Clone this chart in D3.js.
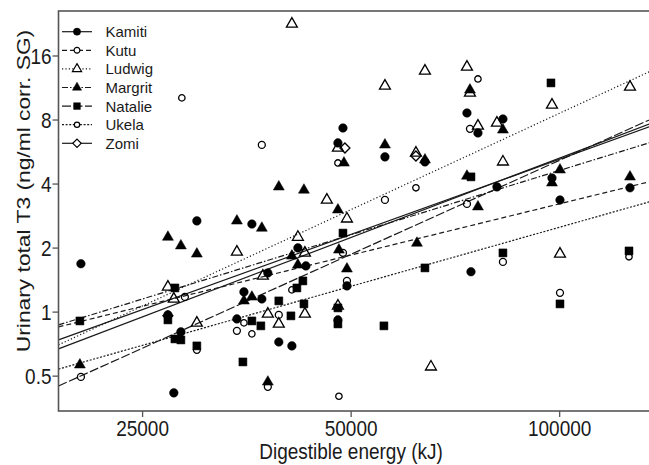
<!DOCTYPE html>
<html>
<head>
<meta charset="utf-8">
<script src="https://cdnjs.cloudflare.com/ajax/libs/d3/7.8.5/d3.min.js"></script>
<style>
body { margin: 0; background: #fff; }
text { font-family: "Liberation Sans", Arial, sans-serif; }
</style>
</head>
<body>
<div id="chart"></div>
<script>
// subjects in legend order
var subjects = ["Kamiti", "Kutu", "Ludwig", "Margrit", "Natalie", "Ukela", "Zomi"];

// [digestible energy kJ, urinary T3]
var kamiti = [[20400,1.68],[29990,2.67],[36010,2.58],[27240,0.965],[28440,0.803],[34260,0.924],
  [35070,1.238],[27780,0.415],[48740,7.30],[47930,6.21],[56040,5.34],[64010,5.06],[41960,1.993],
  [43090,1.64],[37970,1.52],[49390,1.321],[37220,1.147],[47930,0.914],[39380,0.72],[41130,0.69],
  [73600,8.59],[76340,6.92],[82950,8.05],[81310,3.86],[97640,4.25],[126540,3.82],[100270,3.35],[74590,1.54]];
var kutu = [[20400,0.493],[28820,1.172],[29990,0.661],[34260,0.812],[37220,6.08],[48740,1.888],
  [49390,1.394],[39380,0.965],[37970,0.443],[74340,7.23],[73600,3.21],[82950,1.712],[100270,1.225],[56040,3.35]];
var ludwig = [[34260,1.908],[27240,1.307],[27780,1.147],[29990,0.885],[41130,22.5],[64010,13.53],
  [56040,11.51],[47930,5.88],[62120,5.57],[46200,3.35],[49390,2.73],[41960,2.24],[42950,1.888],
  [37350,1.472],[47930,1.064],[37970,0.975],[42950,0.975],[39380,0.875],[65300,0.55],[73600,14.13],
  [74340,10.67],[76340,7.46],[81310,7.71],[97640,9.37],[126540,11.38],[82950,5.06],[100270,1.867]];
var margrit = [[20330,0.562],[27240,2.24],[28440,2.04],[29990,1.867],[34260,2.67],[35070,1.123],
  [36010,1.172],[48900,5.00],[56040,6.08],[64010,5.17],[39380,3.86],[42810,3.73],[47930,3.01],
  [37220,2.47],[41130,1.827],[48090,1.95],[41960,1.658],[62330,2.10],[49390,1.588],[37970,0.467],
  [74340,11.02],[82950,7.15],[73600,4.34],[100270,4.64],[97640,4.03],[126540,4.30],[76340,3.11]];
var natalie = [[20330,0.904],[27880,1.292],[27240,0.914],[27880,0.744],[28440,0.736],[29990,0.69],
  [36010,0.904],[34950,0.58],[48740,2.34],[64010,1.605],[42660,1.394],[41820,1.292],[39380,1.123],
  [42810,1.087],[47930,1.041],[41000,0.955],[37100,0.857],[47930,0.875],[55850,0.857],[97310,11.89],
  [74590,4.30],[82950,1.888],[126120,1.929],[100270,1.087]];
var ukela = [[28530,10.11],[35070,0.885],[36010,0.786],[47930,5.00],[62120,3.82],[41130,1.265],
  [48090,0.40],[76340,12.41],[126120,1.81]];
var zomi = [[62120,5.39],[49060,5.88],[27240,0.955]];

// fitted lines: log2(T3) = intercept + slope * log2(DE / 50000)
var fitIntercept = [1.155, 0.882, 1.590, 1.199, 0.893, 0.394, 1.204];
var fitSlope = [1.240, 0.800, 1.505, 1.004, 1.467, 0.922, 1.174];

var xTicks = [25000, 50000, 100000];
var yTicks = [0.5, 1, 2, 4, 8, 16];

var series = [kamiti, kutu, ludwig, margrit, natalie, ukela, zomi];

var W = 649, H = 465;
var plotLeft = 58.5, plotRight = 652, plotTop = 11, plotBottom = 411;

var diamond = {
  draw: function(ctx, size) {
    var r = Math.sqrt(size / 2);
    ctx.moveTo(0, -r); ctx.lineTo(r, 0); ctx.lineTo(0, r); ctx.lineTo(-r, 0); ctx.closePath();
  }
};

var looks = [
  {sym: d3.symbolCircle, size: 58, fill: true, dash: null},
  {sym: d3.symbolCircle, size: 38, fill: false, dash: "5,3"},
  {sym: d3.symbolTriangle, size: 52, fill: false, dash: "1.2,2.2"},
  {sym: d3.symbolTriangle, size: 52, fill: true, dash: "6,2,1.5,2"},
  {sym: d3.symbolSquare, size: 64, fill: true, dash: "9,2.5"},
  {sym: d3.symbolCircle, size: 32, fill: false, dash: "2,1.6"},
  {sym: diamond, size: 50, fill: false, dash: null}
];

var svg = d3.select("#chart").append("svg")
  .attr("width", W)
  .attr("height", H);

var x = d3.scaleLog()
  .domain([18935, 136146])
  .range([plotLeft, plotRight]);

var y = d3.scaleLog().base(2)
  .domain([0.341, 25.9])
  .range([plotBottom, plotTop]);

svg.append("clipPath").attr("id", "plotclip")
  .append("rect")
  .attr("x", plotLeft).attr("y", plotTop)
  .attr("width", plotRight - plotLeft).attr("height", plotBottom - plotTop);

// regression lines
var lineGen = d3.line().x(function(d) { return x(d[0]); }).y(function(d) { return y(d[1]); });
var lines = svg.append("g").attr("clip-path", "url(#plotclip)");
subjects.forEach(function(name, i) {
  var ends = x.domain().map(function(e) {
    return [e, Math.pow(2, fitIntercept[i] + fitSlope[i] * Math.log2(e / 50000))];
  });
  lines.append("path")
    .attr("d", lineGen(ends))
    .attr("fill", "none")
    .attr("stroke", "#1a1a1a")
    .attr("stroke-width", 1.2)
    .attr("stroke-dasharray", looks[i].dash);
});

// points
var pts = svg.append("g");
series.forEach(function(data, i) {
  var lk = looks[i];
  pts.append("g").selectAll("path")
    .data(data)
    .enter()
    .append("path")
    .attr("transform", function(d) { return "translate(" + x(d[0]) + "," + y(d[1]) + ")"; })
    .attr("d", d3.symbol().type(lk.sym).size(lk.size))
    .attr("fill", lk.fill ? "#000" : "none")
    .attr("stroke", "#000")
    .attr("stroke-width", lk.fill ? 0.5 : 1.3);
});

// frame
svg.append("rect")
  .attr("x", plotLeft).attr("y", plotTop)
  .attr("width", plotRight - plotLeft).attr("height", plotBottom - plotTop)
  .attr("fill", "none")
  .attr("stroke", "#555")
  .attr("stroke-width", 1.6);

// axes
var xAxis = svg.append("g")
  .attr("transform", "translate(0," + plotBottom + ")")
  .call(d3.axisBottom(x).tickValues(xTicks).tickFormat(d3.format("d")).tickSize(6));
xAxis.select(".domain").remove();
xAxis.selectAll("line").attr("stroke", "#555").attr("stroke-width", 1.3);
xAxis.selectAll("text")
  .attr("y", null).attr("dy", null)
  .attr("transform", "translate(0,25) scale(1,1.2)")
  .attr("fill", "#1a1a1a")
  .style("font-size", "19px");

var yAxis = svg.append("g")
  .attr("transform", "translate(" + plotLeft + ",0)")
  .call(d3.axisLeft(y).tickValues(yTicks).tickFormat(function(d) { return d; }).tickSize(6));
yAxis.select(".domain").remove();
yAxis.selectAll("line").attr("stroke", "#555").attr("stroke-width", 1.3);
yAxis.selectAll("text")
  .attr("x", null).attr("dy", null)
  .attr("transform", "translate(-7,8.2) scale(1,1.2)")
  .attr("fill", "#1a1a1a")
  .style("font-size", "19px");

// axis titles
svg.append("text")
  .attr("transform", "translate(351,458.5) scale(1,1.18)")
  .attr("text-anchor", "middle")
  .attr("fill", "#1a1a1a")
  .style("font-size", "19px")
  .text("Digestible energy (kJ)");

svg.append("text")
  .attr("transform", "translate(29.5,191) scale(1,1.2) rotate(-90)")
  .attr("text-anchor", "middle")
  .attr("fill", "#1a1a1a")
  .style("font-size", "19px")
  .text("Urinary total T3 (ng/ml corr. SG)");

// legend
var legend = svg.append("g");
subjects.forEach(function(name, i) {
  var ly = 31.7 + i * 18.6;
  var lk = looks[i];
  legend.append("line")
    .attr("x1", 62).attr("x2", 92)
    .attr("y1", ly).attr("y2", ly)
    .attr("stroke", "#1a1a1a")
    .attr("stroke-width", 1.2)
    .attr("stroke-dasharray", lk.dash);
  legend.append("path")
    .attr("transform", "translate(77," + ly + ")")
    .attr("d", d3.symbol().type(lk.sym).size(lk.size * 0.7))
    .attr("fill", lk.fill ? "#000" : "#fff")
    .attr("stroke", "#000")
    .attr("stroke-width", lk.fill ? 0.5 : 1.2);
  legend.append("text")
    .attr("x", 105.5)
    .attr("y", ly)
    .attr("dominant-baseline", "central")
    .attr("fill", "#1a1a1a")
    .style("font-size", "15px")
    .text(name);
});
</script>
</body>
</html>
